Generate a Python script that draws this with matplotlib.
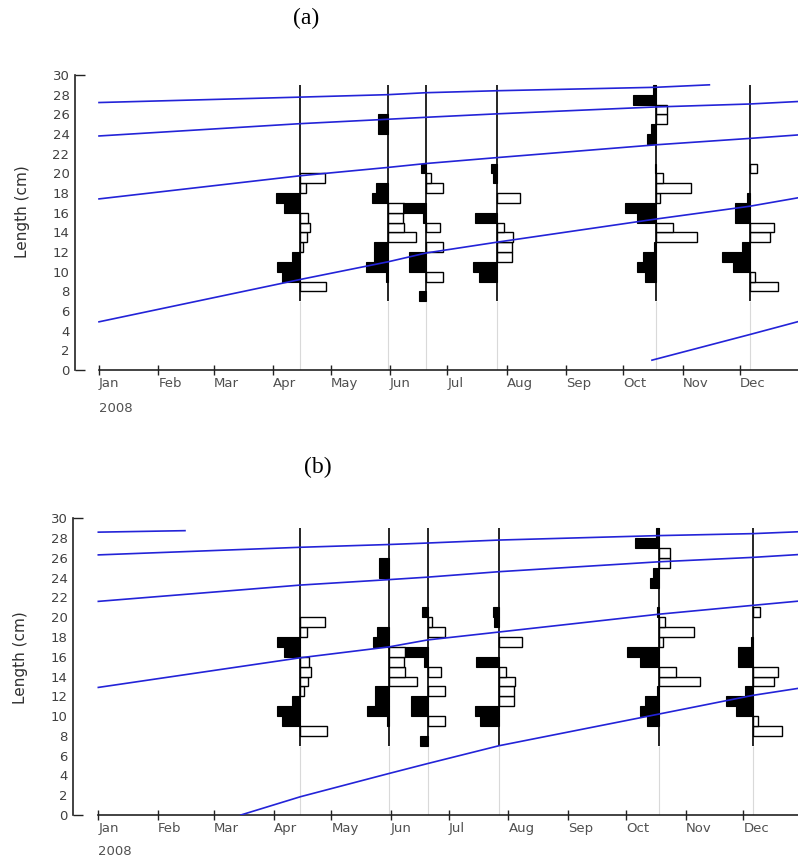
import datetime as dt
import numpy as np
import matplotlib
matplotlib.use("Agg")
from matplotlib import pyplot as plt
import matplotlib.dates as mdates

MONTHS = ["Jan", "Feb", "Mar", "Apr", "May", "Jun", "Jul", "Aug", "Sep", "Oct", "Nov", "Dec"]
YEAR = 2008

# length classes (lower bound, cm), 1 cm wide
class_lower = np.arange(7, 29)

# sampling dates
sample_dates = ["2008-04-15", "2008-05-31", "2008-06-20", "2008-07-27", "2008-10-18", "2008-12-06"]

# restructured frequencies per class (7..28 cm); negative = black bars, positive = open bars
scores_apr = [0, 0.65, -0.45, -0.58, -0.20, 0.08, 0.18, 0.26, 0.21, -0.40, -0.59, 0.15, 0.62,
              0, 0, 0, 0, 0, 0, 0, 0, 0]
scores_may = [0, 0, -0.05, -0.55, -0.35, -0.34, 0.69, 0.40, 0.38, 0.39, -0.41, -0.30, 0,
              0, 0, 0, 0, -0.24, -0.24, 0, 0, 0]
scores_jun = [-0.18, 0, 0.43, -0.42, -0.42, 0.43, 0, 0.34, -0.08, -0.57, 0, 0.43, 0.11,
              -0.13, 0, 0, 0, 0, 0, 0, 0, 0]
scores_jul = [0, 0, -0.46, -0.60, 0.37, 0.37, 0.41, 0.17, -0.56, 0, 0.58, 0, -0.11,
              -0.14, 0, 0, 0, 0, 0, 0, 0, 0]
scores_oct = [0, 0, -0.28, -0.47, -0.33, -0.04, 1.03, 0.44, -0.47, -0.78, 0.11, 0.89, 0.17,
              -0.03, 0, 0, -0.21, -0.13, 0.28, 0.28, -0.58, -0.07]
scores_dec = [0, 0.72, 0.13, -0.41, -0.68, -0.19, 0.52, 0.61, -0.37, -0.37, -0.06, 0, 0,
              0.18, 0, 0, 0, 0, 0, 0, 0, 0]
all_scores = [scores_apr, scores_may, scores_jun, scores_jul, scores_oct, scores_dec]

# growth curves: (dates, lengths)
curve_dates = ["2008-01-01", "2008-04-15", "2008-05-31", "2008-06-20", "2008-07-27",
               "2008-10-18", "2008-12-06", "2008-12-31"]

curves_a = [
    (curve_dates[:6] + ["2008-11-15"], [27.2, 27.75, 28.0, 28.2, 28.4, 28.75, 29.0]),
    (curve_dates, [23.8, 25.05, 25.5, 25.7, 26.05, 26.75, 27.05, 27.3]),
    (curve_dates, [17.4, 19.75, 20.6, 21.0, 21.6, 22.9, 23.55, 23.9]),
    (curve_dates, [4.9, 9.2, 11.0, 11.9, 13.0, 15.35, 16.65, 17.5]),
    (["2008-10-16", "2008-12-06", "2008-12-31"], [1.0, 3.6, 4.9]),
]
curves_b = [
    (["2008-01-01", "2008-02-15"], [28.6, 28.75]),
    (curve_dates, [26.3, 27.07, 27.35, 27.5, 27.8, 28.25, 28.45, 28.65]),
    (curve_dates, [21.6, 23.25, 23.8, 24.05, 24.6, 25.6, 26.05, 26.35]),
    (curve_dates, [12.9, 15.9, 17.0, 17.7, 18.5, 20.3, 21.2, 21.65]),
    (["2008-03-15"] + curve_dates[1:], [0.0, 1.85, 4.2, 5.2, 7.0, 10.2, 12.1, 12.85]),
]

BAR_DAYS = 20.9  # days of x axis per unit of score
W, H = 798, 859


def to_num(s):
    return mdates.date2num(dt.datetime.strptime(s, "%Y-%m-%d"))


def draw_panel(ax, curves, px_per_day, left_px, label_off, ylab_xy):
    jan1 = mdates.date2num(dt.datetime(YEAR, 1, 1))
    ax.set_xlim(jan1 - left_px / px_per_day, jan1 + (W - 99) / px_per_day)
    ax.set_ylim(0, 30)

    xs = [to_num(d) for d in sample_dates]
    ax.vlines(xs, 0, 7, color="#d9d9d9", lw=0.8, zorder=1)
    ax.vlines(xs, 7, 29, color="black", lw=1.2, zorder=3)

    for x, sc in zip(xs, all_scores):
        sc = np.asarray(sc)
        neg = sc < 0
        pos = sc > 0
        ax.barh(class_lower[neg], sc[neg] * BAR_DAYS, left=x, height=1, align="edge",
                color="black", edgecolor="black", lw=0.8, zorder=2)
        ax.barh(class_lower[pos], sc[pos] * BAR_DAYS, left=x, height=1, align="edge",
                color="white", edgecolor="black", lw=1.0, zorder=2)

    for dates, lens in curves:
        ax.plot([to_num(d) for d in dates], lens, color="#2323d8", lw=1.2, zorder=4)

    for s in ["top", "right"]:
        ax.spines[s].set_visible(False)
    ax.spines["left"].set_bounds(0, 30)
    ax.spines["bottom"].set_bounds(jan1, ax.get_xlim()[1])
    for s in ["left", "bottom"]:
        ax.spines[s].set_linewidth(1.2)
        ax.spines[s].set_color("#222222")

    month_starts = [mdates.date2num(dt.datetime(YEAR, m, 1)) for m in range(1, 13)]
    ax.set_xticks(month_starts)
    ax.set_xticklabels(MONTHS)
    ax.tick_params(axis="x", direction="inout", length=7, width=1.0, color="#222222",
                   labelsize=9.5, labelcolor="#505050", pad=1.5)
    for lbl in ax.get_xticklabels():
        lbl.set_horizontalalignment("left")

    ax.set_yticks(np.arange(0, 31, 2))
    ax.tick_params(axis="y", direction="in", length=0, width=1.0, color="#222222",
                   labelsize=9.5, labelcolor="#404040", pad=4)
    yt = ax.yaxis.get_major_ticks()
    yt[0].tick1line.set_markersize(7)
    yt[-1].tick1line.set_markersize(7)

    ax.set_ylabel("Length (cm)", fontsize=11, color="#303030")
    ax.yaxis.set_label_coords(*ylab_xy)
    ax.annotate("2008", xy=(jan1, 0), xytext=(0, label_off), textcoords="offset points",
                ha="left", va="center", fontsize=9.5, color="#505050", annotation_clip=False)


fig = plt.figure(figsize=(W / 100, H / 100), dpi=100)

ax_a = fig.add_axes([75 / W, 1 - 370 / H, (W - 75) / W, 295 / H])
draw_panel(ax_a, curves_a, 1.9134, 24, -27.4, (-0.062, 0.536))

ax_b = fig.add_axes([73.3 / W, 1 - 815 / H, (W - 73.3) / W, 296.7 / H])
draw_panel(ax_b, curves_b, 1.9236, 25, -26.6, (-0.0625, 0.532))

fig.text(306 / W, 1 - 18 / H, "(a)", ha="center", va="center", fontsize=17, family="Liberation Serif")
fig.text(318 / W, 1 - 467 / H, "(b)", ha="center", va="center", fontsize=17, family="Liberation Serif")

fig.savefig("out.png", dpi=100)
